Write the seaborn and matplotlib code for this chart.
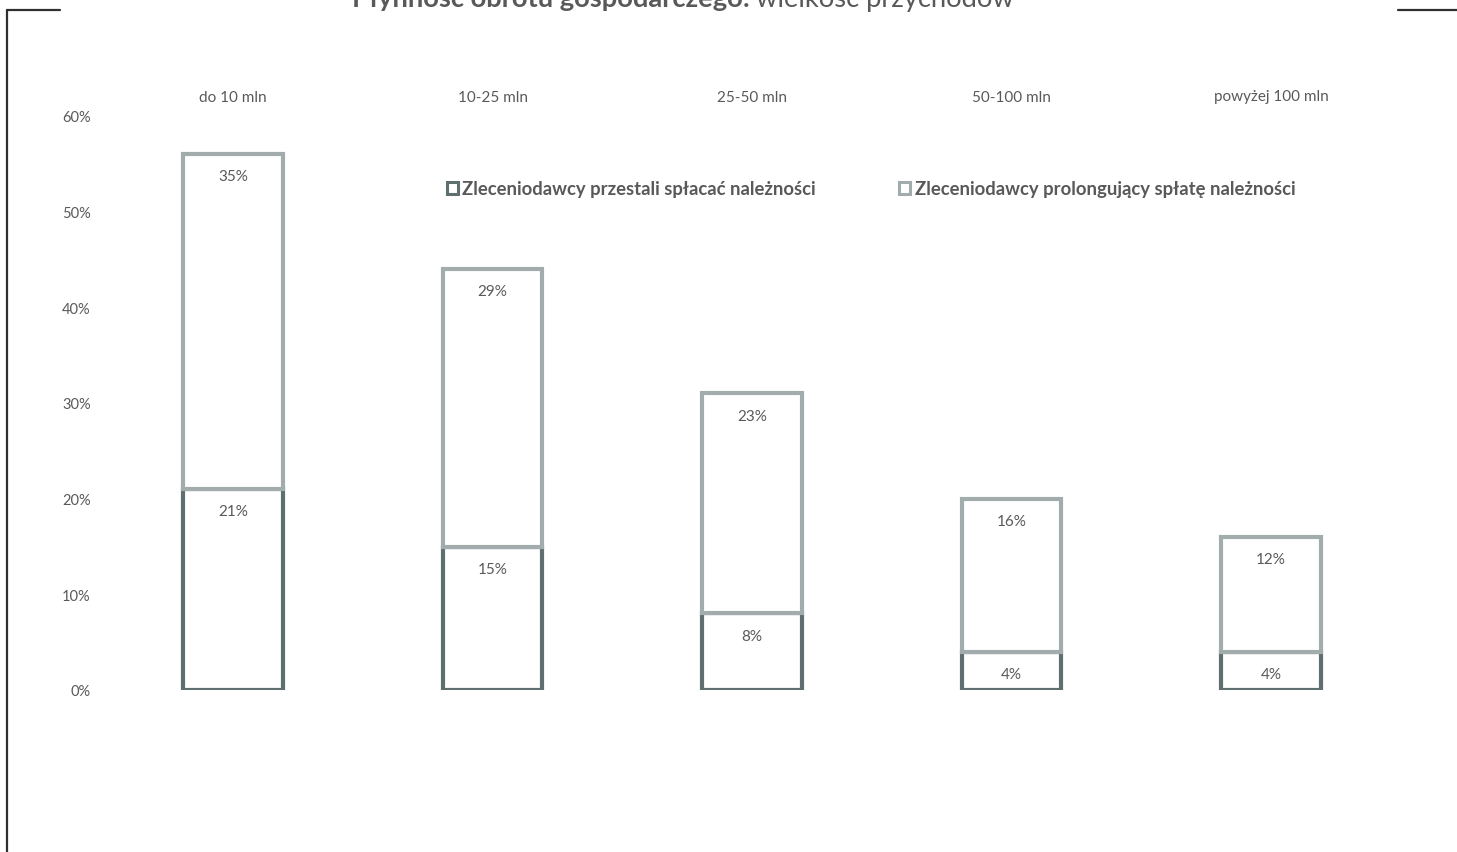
import matplotlib
matplotlib.use("Agg")
import matplotlib.pyplot as plt
from matplotlib.lines import Line2D
from matplotlib.patches import Patch
import seaborn as sns
import pandas as pd

# Revenue size classes
categories = ["do 10 mln", "10-25 mln", "25-50 mln", "50-100 mln", "powyżej 100 mln"]
# Share of clients who stopped paying receivables (%)
stopped_paying = [21, 15, 8, 4, 4]
# Share of clients extending payment of receivables (%)
prolonging = [35, 29, 23, 16, 12]
series_names = ["Zleceniodawcy przestali spłacać należności",
                "Zleceniodawcy prolongujący spłatę należności"]
yticks = [0, 10, 20, 30, 40, 50, 60]
title_bold = "Płynność obrotu gospodarczego:"
title_rest = "wielkość przychodów"

DARK = "#5f6e6e"
LIGHT = "#a3acac"
TEXT = "#595959"

sns.set_theme(style="white")
plt.rcParams["font.family"] = ["Lato", "DejaVu Sans"]

W, H = 1457, 853
fig = plt.figure(figsize=(W / 100, H / 100), dpi=100)
ax = fig.add_axes([103.25 / W, 1 - 691 / H, 1297.5 / W, (691 - 117) / H])

df = pd.DataFrame({
    "cat": categories,
    "stopped": stopped_paying,
    "prolong": prolonging,
})

sns.barplot(data=df, x="cat", y="stopped", order=categories, ax=ax,
            color="white", edgecolor=DARK, linewidth=3, width=0.385,
            saturation=1)
sns.barplot(data=df, x="cat", y="prolong", order=categories, ax=ax,
            color="white", edgecolor=LIGHT, linewidth=3, width=0.385,
            saturation=1, bottom=df["stopped"].values)

for cont, vals in zip(ax.containers, [stopped_paying, prolonging]):
    ax.bar_label(cont, labels=[f"{v}%" for v in vals], padding=-21,
                 fontsize=11, color=TEXT)

ax.set_ylim(0, 60)
ax.set_xlim(-0.5, len(categories) - 0.5)
ax.set_yticks(yticks)
ax.set_yticklabels([f"{v}%" for v in yticks])
ax.xaxis.tick_top()
ax.tick_params(axis="x", length=0, pad=9, labelsize=11, labelcolor=TEXT)
ax.tick_params(axis="y", length=0, pad=9, labelsize=10.5, labelcolor=TEXT)
ax.set_xlabel("")
ax.set_ylabel("")
for s in ax.spines.values():
    s.set_visible(False)
ax.grid(False)

handles = [Patch(facecolor="white", edgecolor=DARK, linewidth=2.2),
           Patch(facecolor="white", edgecolor=LIGHT, linewidth=2.2)]
leg = fig.legend(handles, series_names, loc="center left",
                 bbox_to_anchor=(430 / W, 1 - 190 / H), ncol=2,
                 frameon=False, handlelength=0.6, handleheight=0.6,
                 handletextpad=0.25, columnspacing=4.5,
                 prop={"weight": "bold", "size": 13.3})
for t in leg.get_texts():
    t.set_color(TEXT)

# Title, running above the canvas edge: bold lead-in followed by plain text
t1 = fig.text(352 / W, 1 - 7 / H, title_bold, ha="left", va="baseline",
              fontsize=19.7, fontweight="bold", color=TEXT)
fig.canvas.draw()
bb = t1.get_window_extent(renderer=fig.canvas.get_renderer())
fig.text((bb.x1 + 6) / W, 1 - 7 / H, title_rest, ha="left", va="baseline",
         fontsize=19.7, color=TEXT)

# Chart frame broken by the title
def px(x, y):
    return x / W, 1 - y / H
for (x0, y0), (x1, y1) in [((7, 11), (60, 11)), ((1398, 11), (1460, 11)),
                           ((7, 11), (7, 860))]:
    (a, b), (c, d) = px(x0, y0), px(x1, y1)
    fig.add_artist(Line2D([a, c], [b, d], transform=fig.transFigure,
                          color="#303030", linewidth=1.6))

fig.savefig("out.png", dpi=100, facecolor="white")
